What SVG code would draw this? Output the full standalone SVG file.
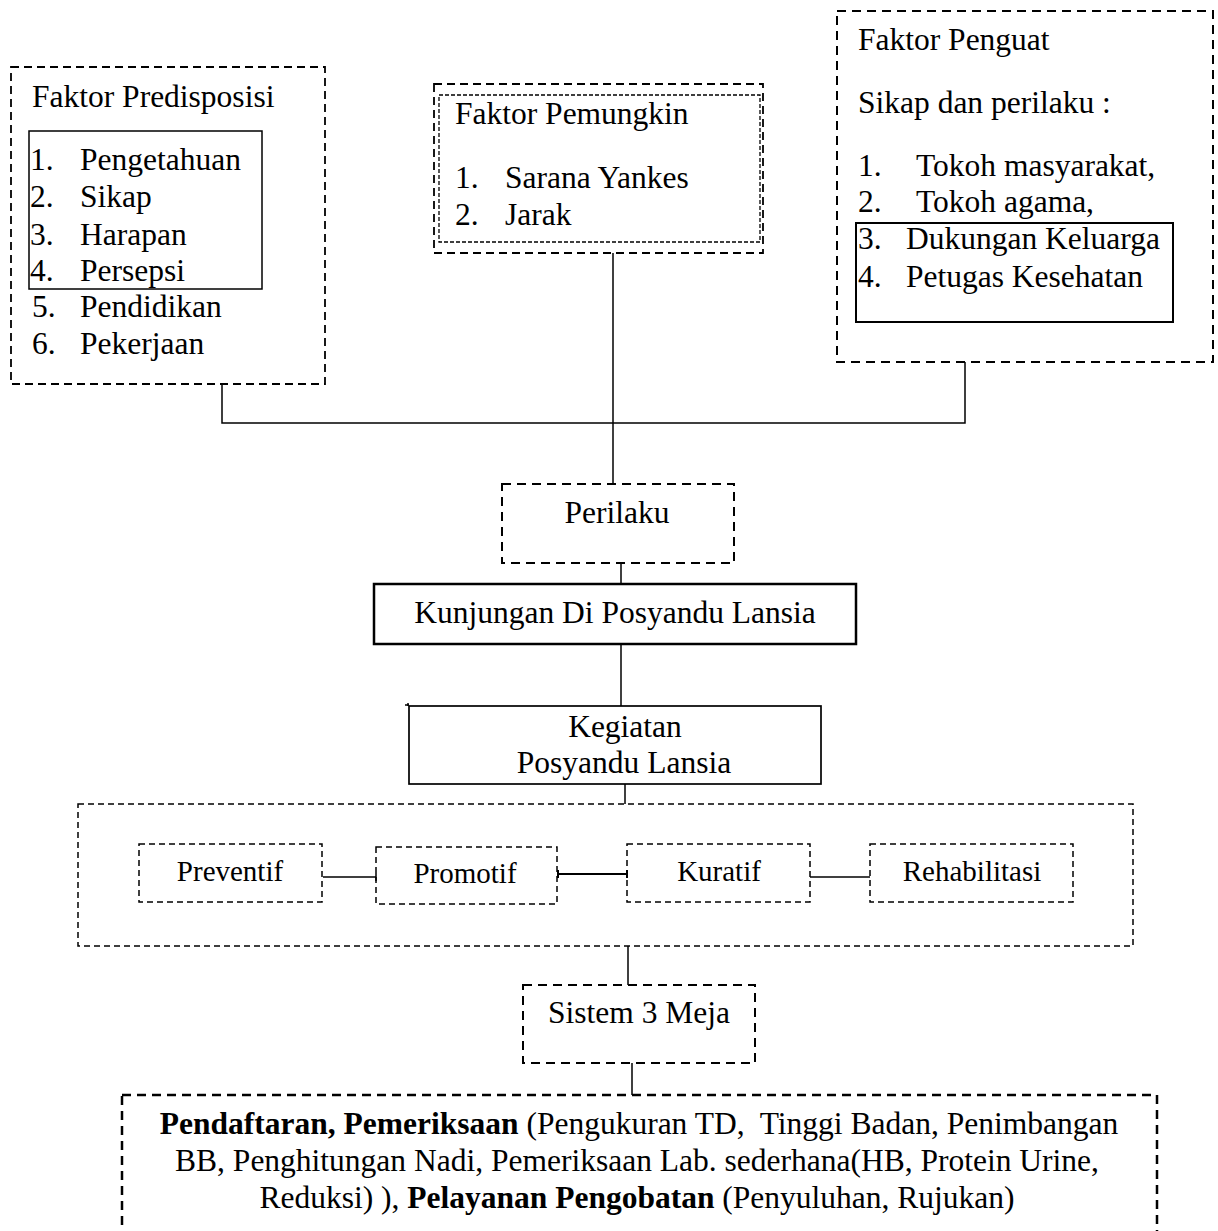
<svg xmlns="http://www.w3.org/2000/svg" width="1218" height="1231" viewBox="0 0 1218 1231">
<style>
text{font-family:"Liberation Serif","Times New Roman",serif;font-size:31.5px;fill:#000}
.sm{font-size:29px}
.c{text-anchor:middle}
.b{font-weight:bold}
.dash{fill:none;stroke:#000;stroke-width:1.8;stroke-dasharray:8 5}
.dash2{fill:none;stroke:#000;stroke-width:2;stroke-dasharray:9 6}
.fine{fill:none;stroke:#000;stroke-width:1.5;stroke-dasharray:6 4}
.dot{fill:none;stroke:#000;stroke-width:1.3;stroke-dasharray:4 2}
.solid{fill:none;stroke:#000;stroke-width:1.5}
.line{fill:none;stroke:#000;stroke-width:1.5}
</style>
<rect width="1218" height="1231" fill="#fff"/>

<g id="connectors">
<path class="line" d="M222 384V423H965V362"/>
<path class="line" d="M613 253V484"/>
<path class="line" d="M621 563V584"/>
<path class="line" d="M621 644V706"/>
<path class="line" d="M625 784V804"/>
<path class="line" d="M323 877H376M376 873V881"/>
<path class="line" style="stroke-width:2" d="M557 874H627M558 870V878M627 870V878"/>
<path class="line" d="M810 877H870"/>
<path class="line" d="M628 946V985"/>
<path class="line" d="M632 1063V1095"/>
</g>

<g id="faktor-predisposisi">
<rect class="dash" x="11" y="67" width="314" height="317"/>
<rect class="solid" x="29" y="131" width="233" height="158"/>
<text x="32" y="107">Faktor Predisposisi</text>
<text x="30" y="170">1.</text><text x="80" y="170">Pengetahuan</text>
<text x="30" y="207">2.</text><text x="80" y="207">Sikap</text>
<text x="30" y="245">3.</text><text x="80" y="245">Harapan</text>
<text x="30" y="281">4.</text><text x="80" y="281">Persepsi</text>
<text x="32" y="317">5.</text><text x="80" y="317">Pendidikan</text>
<text x="32" y="354">6.</text><text x="80" y="354">Pekerjaan</text>
</g>

<g id="faktor-pemungkin">
<rect class="dash" x="434" y="84" width="329" height="169"/>
<rect class="dot" x="439" y="95" width="321" height="147"/>
<text x="455" y="124">Faktor Pemungkin</text>
<text x="455" y="188">1.</text><text x="505" y="188">Sarana Yankes</text>
<text x="455" y="225">2.</text><text x="505" y="225">Jarak</text>
</g>

<g id="faktor-penguat">
<rect class="dash2" x="837" y="11" width="376" height="351"/>
<rect class="solid" style="stroke-width:2" x="856" y="223" width="317" height="99"/>
<text x="858" y="50">Faktor Penguat</text>
<text x="858" y="113">Sikap dan perilaku :</text>
<text x="858" y="176">1.</text><text x="916" y="176">Tokoh masyarakat,</text>
<text x="858" y="212">2.</text><text x="916" y="212">Tokoh agama,</text>
<text x="858" y="249">3.</text><text x="906" y="249">Dukungan Keluarga</text>
<text x="858" y="287">4.</text><text x="906" y="287">Petugas Kesehatan</text>
</g>

<g id="perilaku">
<rect class="dash2" x="502" y="484" width="232" height="79"/>
<text class="c" x="617" y="523">Perilaku</text>
</g>

<g id="kunjungan">
<rect class="solid" style="stroke-width:2.5" x="374" y="584" width="482" height="60"/>
<text class="c" x="615" y="623">Kunjungan Di Posyandu Lansia</text>
</g>

<g id="kegiatan">
<rect class="solid" style="stroke-width:1.7" x="409" y="706" width="412" height="78"/>
<path class="line" d="M405 705H409M408 703V706"/>
<text class="c" x="625" y="737">Kegiatan</text>
<text class="c" x="624" y="773">Posyandu Lansia</text>
</g>

<g id="upaya">
<rect class="fine" x="78" y="804" width="1055" height="142"/>
</g>

<g id="preventif">
<rect class="fine" x="139" y="844" width="183" height="58"/>
<text class="sm c" x="230" y="881">Preventif</text>
</g>
<g id="promotif">
<rect class="fine" x="376" y="847" width="181" height="57"/>
<text class="sm c" x="465" y="883">Promotif</text>
</g>
<g id="kuratif">
<rect class="fine" x="627" y="844" width="183" height="58"/>
<text class="sm c" x="719" y="881">Kuratif</text>
</g>
<g id="rehabilitasi">
<rect class="fine" x="870" y="844" width="203" height="58"/>
<text class="sm c" x="972" y="881">Rehabilitasi</text>
</g>

<g id="sistem-3-meja">
<rect class="dash2" x="523" y="985" width="232" height="78"/>
<text class="c" x="639" y="1023">Sistem 3 Meja</text>
</g>

<g id="meja-detail">
<rect fill="none" stroke="#000" stroke-width="2.5" stroke-dasharray="9 6" x="122" y="1095" width="1035" height="170"/>
<text class="c" x="639" y="1134" xml:space="preserve"><tspan class="b">Pendaftaran, Pemeriksaan</tspan> (Pengukuran TD,  Tinggi Badan, Penimbangan</text>
<text class="c" x="637" y="1171">BB, Penghitungan Nadi, Pemeriksaan Lab. sederhana(HB, Protein Urine,</text>
<text class="c" x="637" y="1208">Reduksi) ), <tspan class="b">Pelayanan Pengobatan</tspan> (Penyuluhan, Rujukan)</text>
</g>
</svg>
